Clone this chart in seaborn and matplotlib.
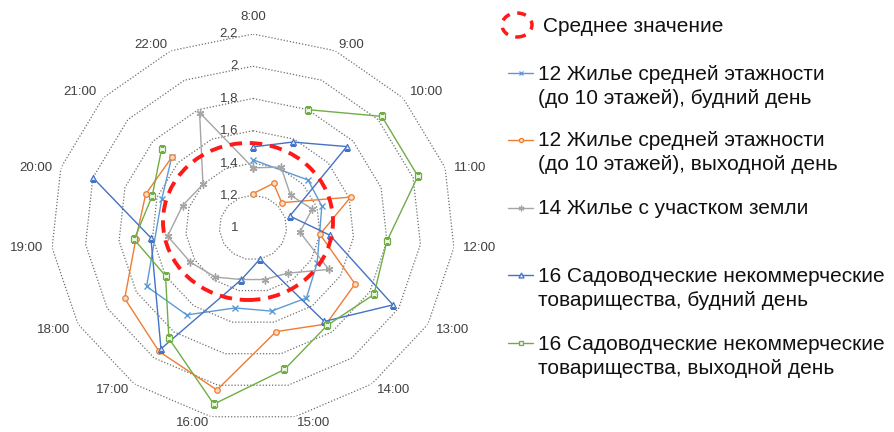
import numpy as np
import pandas as pd
import matplotlib
matplotlib.use("Agg")
import matplotlib.pyplot as plt
from matplotlib.lines import Line2D
from matplotlib.patches import Ellipse
import seaborn as sns

# ---- data -------------------------------------------------------------
hours = ["8:00", "9:00", "10:00", "11:00", "12:00", "13:00", "14:00", "15:00",
         "16:00", "17:00", "18:00", "19:00", "20:00", "21:00", "22:00"]
r_levels = [1.2, 1.4, 1.6, 1.8, 2.0, 2.2]
r_ticks = [1.0, 1.2, 1.4, 1.6, 1.8, 2.0, 2.2]
r_tick_labels = ["1", "1,2", "1,4", "1,6", "1,8", "2", "2,2"]

nan = np.nan
mid_rise_weekday = [1.42, nan, 1.44, 1.43, nan, 1.44, 1.54, 1.53, 1.51, 1.67, 1.73, nan, 1.57, 1.65, nan]
mid_rise_weekend = [1.21, 1.30, 1.23, 1.61, 1.40, 1.70, 1.74, 1.66, 2.03, 1.95, 1.88, 1.70, 1.67, 1.65, nan]
land_plot = [1.37, 1.41, 1.30, 1.37, 1.28, 1.52, 1.35, 1.33, 1.33, 1.38, 1.43, 1.51, 1.44, 1.40, 1.78]
garden_weekday = [1.50, 1.58, 1.75, 1.23, 1.46, 1.96, 1.72, 1.20, 1.33, 1.93, nan, 1.61, 2.00, nan, nan]
garden_weekend = [nan, 1.80, 2.03, 2.03, 1.80, 1.83, 1.75, 1.90, 2.12, 1.85, 1.60, 1.71, 1.63, 1.73, nan]

mean_label = "Среднее значение"
series_names = [
    "12 Жилье средней этажности\n(до 10 этажей), будний день",
    "12 Жилье средней этажности\n(до 10 этажей), выходной день",
    "14 Жилье с участком земли",
    "16 Садоводческие некоммерческие\nтоварищества, будний день",
    "16 Садоводческие некоммерческие\nтоварищества, выходной день",
]
series_values = [mid_rise_weekday, mid_rise_weekend, land_plot, garden_weekday, garden_weekend]

styles = [
    dict(color="#5B9BD5", marker="x", ms=4.5, mfc="#5B9BD5", mew=1.0),
    dict(color="#ED7D31", marker="o", ms=4.0, mfc="#FBDCC6", mew=0.9),
    dict(color="#A5A5A5", marker=(6, 2, 0), ms=5.5, mfc="#A5A5A5", mew=1.0),
    dict(color="#4472C4", marker="^", ms=4.8, mfc="#E3EAF7", mew=0.9),
    dict(color="#70AD47", marker="s", ms=4.6, mfc="#EEF6E8", mew=0.9),
]

# ---- figure -----------------------------------------------------------
sns.set_theme(style="white")
plt.rcParams["font.family"] = ["Liberation Sans", "DejaVu Sans"]

W, H = 894, 432
fig = plt.figure(figsize=(W / 100, H / 100), dpi=100)
fig.patch.set_facecolor("white")

def fx(x):
    return x / W

def fy(y):
    return 1 - y / H

# radar area: centre (253, 227.5) px, half-width 202 px, half-height 193.5 px
ax = fig.add_axes([fx(51), fy(421), 404 / W, 387 / H], projection="polar")
ax.set_aspect("auto")
ax.set_theta_zero_location("N")
ax.set_theta_direction(-1)
ax.patch.set_alpha(0)
ax.grid(False)
ax.spines["polar"].set_visible(False)

n = len(hours)
theta = np.arange(n) * 2 * np.pi / n
theta_closed = np.append(theta, 2 * np.pi)

# polygonal dotted gridlines
for lvl in r_levels:
    ax.plot(theta_closed, [lvl] * (n + 1), color="#6e6e6e", lw=0.9,
            ls=(0, (1.0, 1.5)), zorder=1)

# series
for name, vals, st in zip(series_names, series_values, styles):
    df = pd.DataFrame({"theta": theta, "value": vals})
    if not np.isnan(vals[0]) and not np.isnan(vals[-1]):
        df = pd.concat([df, pd.DataFrame({"theta": [2 * np.pi], "value": [vals[0]]})])
    df = df.dropna()
    sns.lineplot(data=df, x="theta", y="value", ax=ax, sort=False, estimator=None,
                 color=st["color"], lw=1.0, marker=st["marker"], markersize=st["ms"],
                 mfc=st["mfc"], mec=st["color"], mew=st["mew"], legend=False, zorder=3)

ax.set_xlabel("")
ax.set_ylabel("")
ax.set_xticks([])
ax.set_yticks([])
ax.set_xlim(0, 2 * np.pi)
ax.set_ylim(1.0, 2.2)

# radial value labels along the 8:00 axis
for v, lbl in zip(r_ticks, r_tick_labels):
    ax.annotate(lbl, xy=(0, v), xytext=(-10.8, 0), textcoords="offset points",
                ha="right", va="center", fontsize=9.5, color="#404040", zorder=5)

# hour labels around the outer ring
for k, (t, lbl) in enumerate(zip(theta, hours)):
    s, c = np.sin(t), np.cos(t)
    ha = "center" if abs(s) < 0.01 else ("left" if s > 0 else "right")
    va = "bottom" if c > 0.6 else ("top" if c < -0.4 else "center")
    dy = 11 if k == 0 else 0
    ax.annotate(lbl, xy=(t, r_ticks[-1]), xytext=(9 * s * 0.72, dy * 0.72),
                textcoords="offset points", ha=ha, va=va, fontsize=9.5,
                color="#404040", annotation_clip=False)

# mean value outline
ax.add_patch(Ellipse((0.4876, 0.5155), 0.4208, 0.4057, transform=ax.transAxes,
                     fill=False, ec="#FF1A1A", lw=2.8, ls=(0, (3.2, 2.0)), zorder=4))

# ---- legend -----------------------------------------------------------
fig.add_artist(Ellipse((fx(517), fy(25)), 30 / W, 24 / H, transform=fig.transFigure,
                       fill=False, ec="#FF1A1A", lw=2.5, ls=(0, (2.6, 2.2))))
fig.text(fx(543), fy(26), mean_label, ha="left", va="center", fontsize=15, color="#111111")

entry_rows = [74, 141, 209, 276, 344]
for name, st, y0 in zip(series_names, styles, entry_rows):
    fig.add_artist(Line2D([fx(508), fx(533)], [fy(y0 - 1), fy(y0 - 1)], transform=fig.transFigure,
                          color=st["color"], lw=1.0))
    fig.add_artist(Line2D([fx(520.5)], [fy(y0 - 1)], transform=fig.transFigure,
                          color=st["color"], marker=st["marker"], ms=st["ms"] * 0.75,
                          mfc=st["mfc"], mec=st["color"], mew=0.9, lw=0))
    for i, line in enumerate(name.split("\n")):
        fig.text(fx(538), fy(y0 + i * 24), line, ha="left", va="center",
                 fontsize=15, color="#111111")

fig.savefig("out.png", dpi=100, facecolor="white")
